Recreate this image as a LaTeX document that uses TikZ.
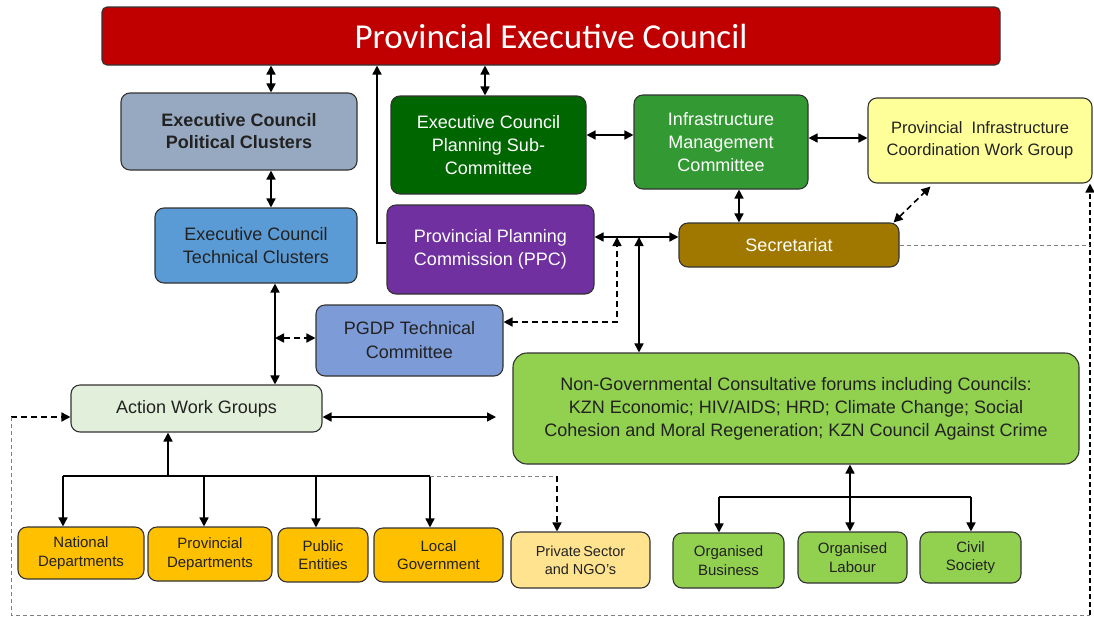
\documentclass[tikz,border=0pt]{standalone}
\usepackage{fontspec}
\setmainfont{Liberation Sans}
\newfontfamily\titlefont{Carlito}
\usetikzlibrary{arrows.meta,calc}
\definecolor{cTitle}{HTML}{C00000}
\definecolor{cPol}{HTML}{97A9C1}
\definecolor{cSub}{HTML}{006600}
\definecolor{cImc}{HTML}{339933}
\definecolor{cPic}{HTML}{FFFF99}
\definecolor{cTech}{HTML}{5B9BD5}
\definecolor{cPpc}{HTML}{7030A0}
\definecolor{cSec}{HTML}{A07800}
\definecolor{cPgdp}{HTML}{7D9BD7}
\definecolor{cAwg}{HTML}{E2EFDA}
\definecolor{cNgo}{HTML}{92D050}
\definecolor{cGold}{HTML}{FFC000}
\definecolor{cPriv}{HTML}{FFE38F}
\definecolor{cTxt}{HTML}{222222}
\begin{document}
\begin{tikzpicture}[x=1pt,y=-1pt,
  box/.style={draw=black!80, line width=1.1pt, rounded corners=9pt, align=center,
    inner sep=0pt, font=\fontsize{18}{23}\selectfont, text=cTxt},
  wtxt/.style={text=white},
  small/.style={font=\fontsize{15}{18.5}\selectfont},
  arr/.style={line width=1.6pt, -{Triangle[length=9pt,width=9pt]}},
  darr/.style={line width=1.6pt, {Triangle[length=9pt,width=9pt]}-{Triangle[length=9pt,width=9pt]}},
  plain/.style={line width=1.6pt},
  thickdash/.style={dash pattern=on 6pt off 4pt},
  rdash/.style={line width=1.8pt, dash pattern=on 5pt off 3pt},
  thindash/.style={draw=gray, line width=0.8pt, dash pattern=on 4pt off 3pt}]
\useasboundingbox[fill=white] (0,0) rectangle (1094,619);

% nodes
\node[box, rounded corners=5pt, fill=cTitle, minimum width=898pt, minimum height=58pt, text=white,
  font=\titlefont\fontsize{35}{40}\selectfont] (title) at (551,36) {Provincial Executive Council};
\node[box, fill=cPol, minimum width=236pt, minimum height=77pt, font=\bfseries\fontsize{18}{22}\selectfont]
  (pol) at (239,131.5) {Executive Council\\Political Clusters};
\node[box, fill=cSub, wtxt, minimum width=195pt, minimum height=98pt] (sub) at (488.5,145)
  {Executive Council\\Planning Sub-\\Committee};
\node[box, fill=cImc, wtxt, minimum width=174pt, minimum height=94pt] (imc) at (721,142)
  {Infrastructure\\Management\\Committee};
\node[box, fill=cPic, minimum width=224pt, minimum height=85pt, font=\fontsize{16.5}{22}\selectfont]
  (pic) at (980,140.5) {Provincial~~Infrastructure\\Coordination Work Group};
\node[box, fill=cTech, minimum width=202pt, minimum height=75pt] (tech) at (256,245.5)
  {Executive Council\\Technical Clusters};
\node[box, fill=cPpc, wtxt, minimum width=207pt, minimum height=89pt] (ppc) at (490.5,249.5)
  {Provincial Planning\\Commission (PPC)};
\node[box, fill=cSec, wtxt, minimum width=220pt, minimum height=44pt] (sec) at (789,245) {Secretariat};
\node[box, fill=cPgdp, minimum width=187pt, minimum height=71pt, font=\fontsize{18}{24}\selectfont]
  (pgdp) at (409.5,340.5) {PGDP Technical\\Committee};
\node[box, fill=cAwg, minimum width=251pt, minimum height=47pt] (awg) at (196.5,408.5) {Action Work Groups};
\node[box, fill=cNgo, minimum width=566pt, minimum height=111pt, rounded corners=14pt] (ngo) at (796,408.5)
  {Non-Governmental Consultative forums including Councils:\\KZN Economic; HIV/AIDS; HRD; Climate Change; Social\\Cohesion and Moral Regeneration; KZN Council Against Crime};
\node[box, small, fill=cGold, minimum width=126pt, minimum height=52pt] (nat) at (81,553) {National\\Departments};
\node[box, small, fill=cGold, minimum width=124pt, minimum height=54pt] (prov) at (210,554) {Provincial\\Departments};
\node[box, small, fill=cGold, minimum width=90pt, minimum height=54pt] (pub) at (323,555) {Public\\Entities};
\node[box, small, fill=cGold, minimum width=129pt, minimum height=54pt] (loc) at (438.5,555) {Local\\Government};
\node[box, fill=cPriv, minimum width=139pt, minimum height=56pt, font=\fontsize{14.5}{18}\selectfont]
  (priv) at (580.5,560) {Private\,Sector\\and NGO's};
\node[box, small, fill=cNgo, minimum width=111pt, minimum height=55pt] (bus) at (728.5,560.5) {Organised\\Business};
\node[box, small, fill=cNgo, minimum width=109pt, minimum height=51pt] (lab) at (852.5,557.5) {Organised\\Labour};
\node[box, small, fill=cNgo, minimum width=101pt, minimum height=51pt] (civ) at (970.5,557.5) {Civil\\Society};

% helper coordinates
\coordinate (xa) at (271,0);
\coordinate (xb) at (485,0);
\coordinate (k1) at (377,243);
\coordinate (ya) at (0,135);
\coordinate (yb) at (0,138);
\coordinate (xc) at (739,0);
\coordinate (yc) at (0,237);
\coordinate (xd) at (639,0);
\coordinate (k2) at (617,322);
\coordinate (xe) at (275,0);
\coordinate (ye) at (0,338);
\coordinate (yf) at (0,417);
\coordinate (ngoL) at (496,417);
\coordinate (bar) at (168,476);
\coordinate (b1) at (63,476);
\coordinate (b4) at (430,476);
\coordinate (b5) at (557,476);
\coordinate (xg) at (850,0);
\coordinate (g1) at (719,497);
\coordinate (g3) at (971,497);
\coordinate (lt) at (11,417);
\coordinate (bl) at (11,615);
\coordinate (br) at (1090,615);
\coordinate (d1) at ($(sec.north east)+(-6,0)$);
\coordinate (d2) at ($(pic.south west)+(63,3)$);

% connectors
\draw[darr] (title.south -| xa) -- (pol.north -| xa);
\draw[arr] (k1 -| ppc.west) -- (k1) -- (k1 |- title.south);
\draw[darr] (title.south -| xb) -- (sub.north -| xb);
\draw[darr] (pol.south -| xa) -- (tech.north -| xa);
\draw[darr] (sub.east |- ya) -- (imc.west |- ya);
\draw[darr] (imc.east |- yb) -- (pic.west |- yb);
\draw[darr] (imc.south -| xc) -- (sec.north -| xc);
\draw[darr, thickdash] (d1) -- (d2);
\draw[darr] (ppc.east |- yc) -- (sec.west |- yc);
\draw[darr] (xd |- yc) -- (ngo.north -| xd);
\draw[darr, thickdash] (pgdp.east |- k2) -- (k2) -- (k2 |- yc);
\draw[darr] (tech.south -| xe) -- (awg.north -| xe);
\draw[darr, thickdash] (xe |- ye) -- (pgdp.west |- ye);
\draw[darr] (awg.east |- yf) -- (ngoL);
% tree to government bodies
\draw[arr] (bar) -- (awg.south -| bar);
\draw[plain] (b1) -- (b4);
\draw[arr] (b1) -- (nat.north -| b1);
\draw[arr] (bar -| 204,0) -- (prov.north -| 204,0);
\draw[arr] (bar -| 316,0) -- (pub.north -| 316,0);
\draw[arr] (b4) -- (loc.north -| b4);
\draw[thindash] (b4) -- (b5);
\draw[arr, thickdash] (b5) -- (priv.north -| b5);
% tree to organised groups
\draw[darr] (ngo.south -| xg) -- (lab.north -| xg);
\draw[plain] (g1) -- (g3);
\draw[arr] (g1) -- (bus.north -| g1);
\draw[arr] (g3) -- (civ.north -| g3);
% outer dashed loop
\draw[arr, thickdash] (lt) -- (awg.west |- lt);
\draw[thindash] (lt) -- (bl) -- (br);
\draw[rdash, -{Triangle[length=9pt,width=9pt]}] (br) -- (br |- pic.south);
\draw[thindash] (sec.east) -- (sec.east -| br);
\end{tikzpicture}
\end{document}
